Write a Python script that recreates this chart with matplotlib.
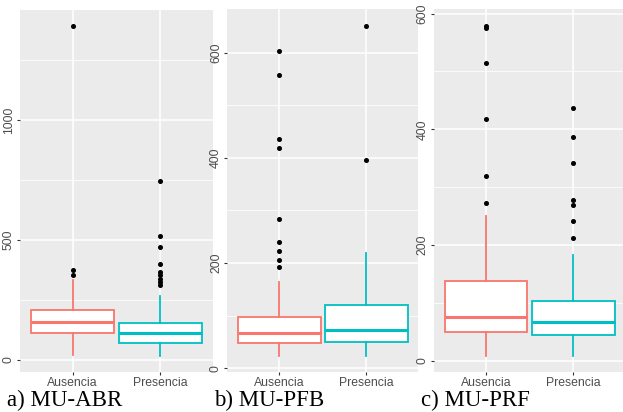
import matplotlib.pyplot as plt

plt.rcParams["font.family"] = ["Liberation Sans", "DejaVu Sans"]

groups = ["Ausencia", "Presencia"]
colors = ["#F8766D", "#00BFC4"]

# a) MU-ABR
abr_q1 = [111, 69]
abr_med = [158, 111]
abr_q3 = [208, 153]
abr_lo = [21, 17]
abr_hi = [333, 264]
abr_out = [[1390, 375, 355], [746, 515, 469, 401, 365, 351, 337, 323, 312]]
abr_ticks = [0, 500, 1000]
abr_minor = [250, 750, 1250]

# b) MU-PFB
pfb_q1 = [47, 50]
pfb_med = [66, 72]
pfb_q3 = [98, 120]
pfb_lo = [24, 24]
pfb_hi = [164, 218]
pfb_out = [[603, 557, 436, 418, 283, 240, 223, 205, 192], [651, 396]]
pfb_ticks = [0, 200, 400, 600]
pfb_minor = [100, 300, 500]

# c) MU-PRF
prf_q1 = [50, 44]
prf_med = [76, 67]
prf_q3 = [138, 104]
prf_lo = [9, 9]
prf_hi = [251, 182]
prf_out = [[579, 575, 515, 417, 320, 273], [437, 387, 342, 278, 269, 241, 212]]
prf_ticks = [0, 200, 400, 600]
prf_minor = [100, 300, 500]

W, H = 623, 412
fig = plt.figure(figsize=(W / 100, H / 100), dpi=100)


def panel(left, right, top, q1, med, q3, lo, hi, out, ticks, minor, label, lx):
    ax = fig.add_axes([left / W, 1 - 372 / H, (right - left) / W, (372 - top) / H])
    ax.set_facecolor("#EBEBEB")
    for s in ax.spines.values():
        s.set_visible(False)
    stats = []
    for i in range(2):
        stats.append(dict(q1=q1[i], med=med[i], q3=q3[i], whislo=lo[i],
                          whishi=hi[i], fliers=out[i]))
    bp = ax.bxp(stats, positions=[1, 2], widths=0.95, patch_artist=True,
                showcaps=False, zorder=3,
                flierprops=dict(marker="o", markersize=2.6, markerfacecolor="black",
                                markeredgecolor="black"))
    for i, c in enumerate(colors):
        bp["boxes"][i].set(facecolor="white", edgecolor=c, linewidth=1.3)
        bp["medians"][i].set(color=c, linewidth=2.2)
        bp["whiskers"][2 * i].set(color=c, linewidth=1.3)
        bp["whiskers"][2 * i + 1].set(color=c, linewidth=1.3)
    vals = lo + hi + out[0] + out[1]
    pad = 0.05 * (max(vals) - min(vals))
    ax.set_ylim(min(vals) - pad, max(vals) + pad)
    ax.set_xlim(0.4, 2.6)
    ax.set_yticks(ticks)
    ax.set_yticks(minor, minor=True)
    ax.set_xticks([1, 2])
    ax.set_xticklabels(groups)
    ax.grid(which="major", color="white", linewidth=1.1, zorder=0)
    ax.grid(which="minor", axis="y", color="white", linewidth=0.55, zorder=0)
    ax.set_axisbelow(True)
    ax.tick_params(which="major", length=2.2, width=0.8, color="#333333",
                   labelcolor="#4D4D4D", labelsize=8.8, pad=1.5)
    ax.tick_params(which="minor", length=0)
    for t in ax.get_yticklabels():
        t.set_rotation(90)
        t.set_va("center")
    fig.text(lx / W, 1 - 406 / H, label, family="Liberation Serif", fontsize=16.5,
             va="baseline", ha="left")
    return ax


panel(20.1, 212.9, 10, abr_q1, abr_med, abr_q3, abr_lo, abr_hi, abr_out,
      abr_ticks, abr_minor, "a) MU-ABR", 7)
panel(227.1, 418.5, 9.3, pfb_q1, pfb_med, pfb_q3, pfb_lo, pfb_hi, pfb_out,
      pfb_ticks, pfb_minor, "b) MU-PFB", 214)
panel(433.6, 625.7, 9.3, prf_q1, prf_med, prf_q3, prf_lo, prf_hi, prf_out,
      prf_ticks, prf_minor, "c) MU-PRF", 421)

plt.savefig("out.png", dpi=100)
